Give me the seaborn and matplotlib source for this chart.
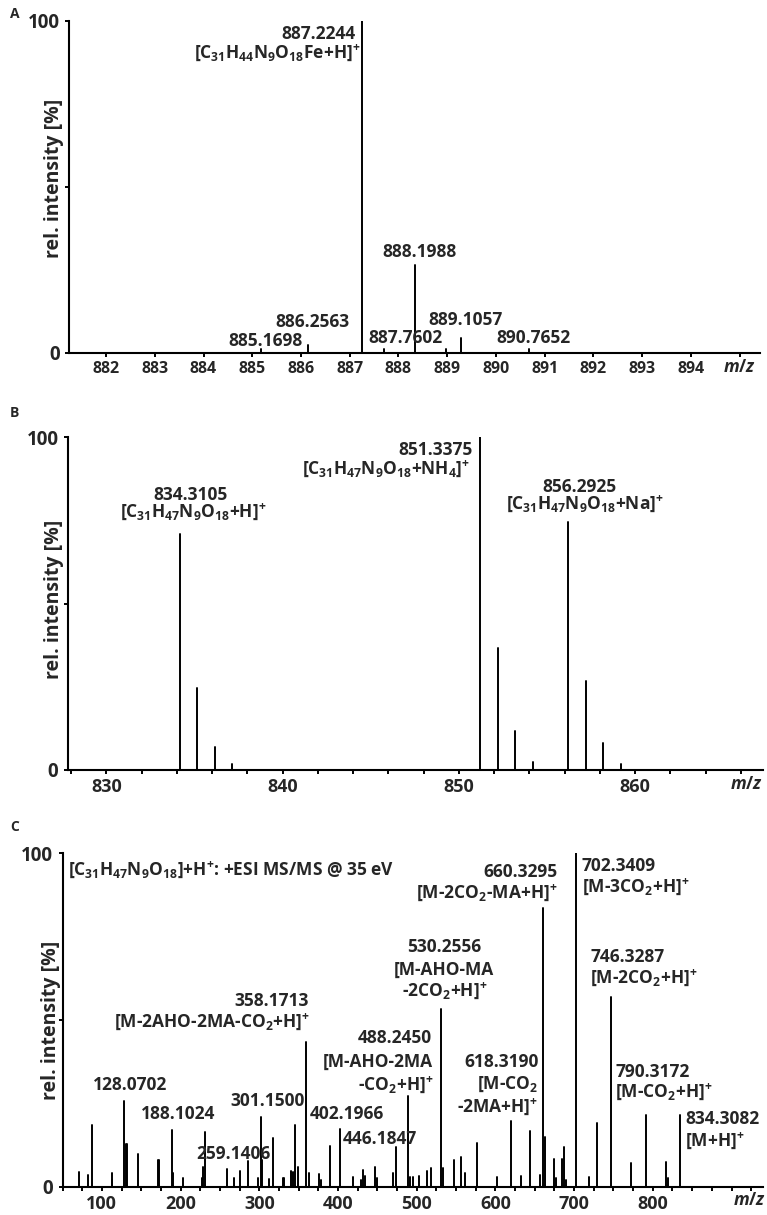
# mass spectra of the ferrioxamine-type siderophore: isotope pattern (A), MS1 adducts (B), MS/MS (C)
import numpy as np
import pandas as pd
import seaborn as sns
import matplotlib.pyplot as plt
from matplotlib.ticker import MultipleLocator

# --- peak lists (m/z, rel. intensity in %) ---
a_mz = [885.18, 886.15, 887.25, 887.71, 888.34, 888.97, 889.28, 890.68]
a_int = [1.3, 2.5, 100, 1.2, 26.5, 1.2, 4.5, 1.3]

b_mz = [834.18, 835.16, 836.16, 837.14, 851.2, 852.2, 853.2, 854.2,
        856.2, 857.2, 858.2, 859.2]
b_int = [70.9, 24.5, 7.0, 1.8, 100, 36.8, 11.7, 2.3, 74.6, 26.8, 8.0, 1.8]

c_mz = [71.0, 82.0, 87.5, 112.5, 113.3, 128.5, 130.5, 131.6, 146.3, 171.5,
        173.0, 188.8, 190.8, 203.0, 226.9, 228.9, 231.0, 259.4, 267.9, 275.2,
        286.1, 298.8, 302.2, 303.9, 312.4, 317.1, 329.8, 331.5, 340.3, 343.3,
        345.8, 348.9, 359.5, 363.2, 375.9, 378.1, 389.9, 402.6, 419.5, 429.3,
        432.2, 434.4, 447.1, 449.6, 470.3, 473.8, 489.0, 491.5, 495.8, 503.0,
        512.8, 517.9, 531.3, 533.9, 547.9, 556.4, 561.4, 576.3, 601.7, 619.5,
        632.6, 644.0, 656.7, 660.2, 663.1, 674.9, 677.1, 685.1, 687.6, 689.8,
        702.3, 719.0, 729.5, 747.0, 772.4, 791.8, 816.8, 819.0, 834.6]
c_int = [4.5, 3.5, 18.4, 2.0, 4.2, 25.7, 12.8, 12.8, 9.7, 8.0,
         8.0, 17.1, 4.0, 2.5, 2.5, 6.0, 16.3, 5.3, 2.7, 4.7,
         7.7, 2.5, 20.8, 8.0, 2.4, 14.5, 2.6, 2.6, 4.7, 4.5,
         18.4, 6.0, 43.5, 4.2, 3.8, 2.0, 12.2, 17.3, 3.0, 2.0,
         5.0, 3.2, 5.8, 2.5, 4.0, 11.8, 27.2, 2.8, 2.8, 3.2,
         4.8, 5.5, 53.2, 5.5, 8.0, 9.0, 4.2, 13.2, 2.8, 19.8,
         3.2, 16.7, 3.6, 83.5, 15.0, 8.3, 2.5, 8.3, 11.8, 2.0,
         100, 2.8, 19.2, 56.8, 7.2, 21.5, 7.5, 2.5, 21.5]

# tick labels
a_ticks = [882, 883, 884, 885, 886, 887, 888, 889, 890, 891, 892, 893, 894]
b_ticks = [830, 840, 850, 860]
c_ticks = [100, 200, 300, 400, 500, 600, 700, 800]
y_ticks = [0, 50, 100]
y_ticklabels = ['0', '', '100']

# peak annotations: text, m/z, baseline height (%), alignment
a_notes = [
    ('887.2244', 887.11, 94.5, 'right'),
    (r'[C$_{31}$H$_{44}$N$_9$O$_{18}$Fe+H]$^{+}$', 887.22, 88.6, 'right'),
    ('886.2563', 886.23, 7.9, 'center'),
    ('885.1698', 885.28, 2.2, 'center'),
    ('887.7602', 888.15, 2.9, 'center'),
    ('888.1988', 888.43, 29.0, 'center'),
    ('889.1057', 889.38, 8.4, 'center'),
    ('890.7652', 890.77, 2.9, 'center'),
]
b_notes = [
    ('834.3105', 834.76, 81.2, 'center'),
    (r'[C$_{31}$H$_{47}$N$_9$O$_{18}$+H]$^{+}$', 834.9, 75.8, 'center'),
    ('851.3375', 850.8, 94.7, 'right'),
    (r'[C$_{31}$H$_{47}$N$_9$O$_{18}$+NH$_4$]$^{+}$', 850.6, 88.8, 'right'),
    ('856.2925', 856.85, 83.6, 'center'),
    (r'[C$_{31}$H$_{47}$N$_9$O$_{18}$+Na]$^{+}$', 857.17, 78.3, 'center'),
]
c_notes = [
    (r'[C$_{31}$H$_{47}$N$_9$O$_{18}$]+H$^{+}$: +ESI MS/MS @ 35 eV', 57.4, 93.3, 'left'),
    ('128.0702', 135.8, 28.9, 'center'),
    ('188.1024', 196.8, 20.4, 'center'),
    ('259.1406', 267.0, 8.4, 'center'),
    ('301.1500', 309.9, 24.1, 'center'),
    ('358.1713', 315.3, 54.3, 'center'),
    (r'[M-2AHO-2MA-CO$_2$+H]$^{+}$', 240.6, 47.6, 'center'),
    ('402.1966', 411.1, 20.4, 'center'),
    ('446.1847', 453.4, 12.9, 'center'),
    ('488.2450', 519.1, 43.2, 'right'),
    ('[M-AHO-2MA', 520.4, 36.0, 'right'),
    (r'-CO$_2$+H]$^{+}$', 521.2, 28.6, 'right'),
    ('530.2556', 534.5, 70.3, 'center'),
    ('[M-AHO-MA', 534.7, 63.5, 'center'),
    (r'-2CO$_2$+H]$^{+}$', 535.4, 56.8, 'center'),
    ('618.3190', 654.6, 35.8, 'right'),
    (r'[M-CO$_2$', 654.6, 29.3, 'right'),
    (r'-2MA+H]$^{+}$', 654.6, 22.0, 'right'),
    ('660.3295', 679.2, 93.0, 'right'),
    (r'[M-2CO$_2$-MA+H]$^{+}$', 679.2, 86.3, 'right'),
    ('702.3409', 709.7, 94.8, 'left'),
    (r'[M-3CO$_2$+H]$^{+}$', 709.7, 88.0, 'left'),
    ('746.3287', 720.3, 67.5, 'left'),
    (r'[M-2CO$_2$+H]$^{+}$', 720.3, 60.8, 'left'),
    ('790.3172', 752.0, 32.8, 'left'),
    (r'[M-CO$_2$+H]$^{+}$', 752.0, 26.5, 'left'),
    ('834.3082', 841.0, 18.9, 'left'),
    (r'[M+H]$^{+}$', 841.0, 12.0, 'left'),
]

sns.set_style('ticks')
plt.rcParams['font.family'] = ['Open Sans', 'DejaVu Sans']
plt.rcParams['font.weight'] = 'bold'
plt.rcParams['axes.labelweight'] = 'bold'
plt.rcParams['mathtext.fontset'] = 'custom'
plt.rcParams['mathtext.default'] = 'rm'
plt.rcParams['mathtext.rm'] = 'Open Sans:bold'
plt.rcParams['mathtext.it'] = 'Open Sans:italic:bold'
plt.rcParams['mathtext.bf'] = 'Open Sans:bold'


def stick_frame(mz, inten):
    # every peak becomes a vertical segment from 0 to its intensity
    n = len(mz)
    return pd.DataFrame({
        'mz': np.repeat(mz, 2),
        'intensity': np.column_stack([np.zeros(n), inten]).ravel(),
        'peak': np.repeat(np.arange(n), 2),
    })


def draw_panel(ax, mz, inten, xlim, major, minor_step, mz_pos, notes, tick_fs, ylab_xy):
    sns.lineplot(data=stick_frame(mz, inten), x='mz', y='intensity', units='peak',
                 estimator=None, sort=False, color='black', linewidth=1.4,
                 legend=False, ax=ax)
    ax.set_xlim(*xlim)
    ax.set_ylim(0, 100)
    ax.set_xticks(major, [str(t) for t in major], fontweight='bold')
    ax.xaxis.set_minor_locator(MultipleLocator(minor_step))
    ax.set_yticks(y_ticks, y_ticklabels, fontweight='bold')
    ax.tick_params(which='both', direction='out', length=3.2, width=1.4, color='black')
    ax.tick_params(axis='x', labelsize=tick_fs, pad=2.5)
    ax.tick_params(axis='y', labelsize=13.5, pad=3.5)
    sns.despine(ax=ax)
    for s in ['left', 'bottom']:
        ax.spines[s].set_linewidth(1.5)
        ax.spines[s].set_color('black')
    ax.set_xlabel('')
    ax.set_ylabel('rel. intensity [%]', fontsize=14, fontweight='bold', va='center')
    ax.yaxis.set_label_coords(*ylab_xy)
    ax.text(mz_pos, -0.041, r'$\mathit{m/z}$', transform=ax.get_xaxis_transform(),
            ha='center', va='center', fontsize=12.5)
    for txt, x, y, ha in notes:
        ax.text(x, y, txt, ha=ha, va='baseline', fontsize=12.5, fontweight='bold')


fig = plt.figure(figsize=(7.67, 12.15), dpi=100)
ax_a = fig.add_axes([0.0900, 0.7095, 0.9009, 0.2733])
ax_b = fig.add_axes([0.0883, 0.3663, 0.9065, 0.2738])
ax_c = fig.add_axes([0.0815, 0.0233, 0.9133, 0.2744])

draw_panel(ax_a, a_mz, a_int, (881.24, 895.42), a_ticks, 1, 895, a_notes, 11.5, (-0.0217, 0.526))
draw_panel(ax_b, b_mz, b_int, (827.8, 867.26), b_ticks, 2, 866.3, b_notes, 13, (-0.0197, 0.514))
draw_panel(ax_c, c_mz, c_int, (50, 940), c_ticks, 25, 923, c_notes, 13, (-0.0167, 0.498))

for letter, ypx in [('A', 14), ('B', 413), ('C', 827)]:
    fig.text(10 / 767, 1 - ypx / 1215, letter, fontsize=10, fontweight='bold', ha='left', va='center')

fig.savefig('out.png', dpi=100)
